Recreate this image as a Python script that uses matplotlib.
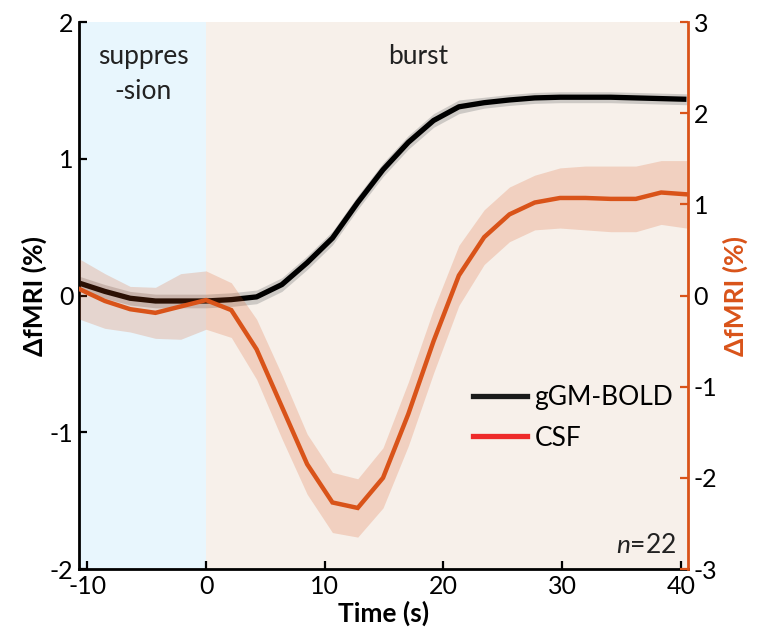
import numpy as np
import matplotlib
matplotlib.use("Agg")
import matplotlib.pyplot as plt
from matplotlib.lines import Line2D

plt.rcParams['font.family'] = ['Lato', 'DejaVu Sans']
plt.rcParams['axes.unicode_minus'] = False
plt.rcParams['mathtext.fontset'] = 'custom'
plt.rcParams['mathtext.it'] = 'Lato:italic'
plt.rcParams['mathtext.rm'] = 'Lato'

# Sample times (s), one frame every ~2.13 s around burst onset
time = [-10.65, -8.52, -6.39, -4.26, -2.13, 0.0, 2.13, 4.26, 6.39, 8.52,
        10.65, 12.78, 14.91, 17.04, 19.17, 21.3, 23.43, 25.56, 27.69, 29.82,
        31.95, 34.08, 36.21, 38.34, 40.47]

# Grey-matter BOLD, mean and SEM (%)
bold_mean = [0.09, 0.03, -0.02, -0.04, -0.04, -0.04, -0.03, -0.01, 0.08, 0.24,
             0.42, 0.68, 0.92, 1.12, 1.28, 1.38, 1.41, 1.43, 1.445, 1.45,
             1.45, 1.45, 1.445, 1.44, 1.435]
bold_sem = [0.05, 0.05, 0.05, 0.05, 0.05, 0.05, 0.05, 0.05, 0.05, 0.05,
            0.05, 0.05, 0.05, 0.05, 0.05, 0.05, 0.04, 0.04, 0.04, 0.04,
            0.04, 0.04, 0.04, 0.04, 0.04]

# CSF inflow signal, mean and SEM (%)
csf_mean = [0.07, -0.06, -0.15, -0.19, -0.12, -0.05, -0.16, -0.59, -1.22, -1.85,
            -2.27, -2.33, -2.0, -1.3, -0.5, 0.22, 0.64, 0.89, 1.02, 1.07,
            1.07, 1.06, 1.06, 1.13, 1.11]
csf_sem = [0.33, 0.3, 0.25, 0.28, 0.36, 0.32, 0.3, 0.33, 0.35, 0.33,
           0.33, 0.32, 0.33, 0.35, 0.35, 0.33, 0.3, 0.3, 0.3, 0.33,
           0.35, 0.36, 0.36, 0.35, 0.37]

n_subjects = 22
orange = '#D95319'
fs = 19

t = np.array(time)
bm, bs = np.array(bold_mean), np.array(bold_sem)
cm_, cs = np.array(csf_mean), np.array(csf_sem)

fig = plt.figure(figsize=(7.64, 6.4), dpi=100)
ax = fig.add_axes([0.1034, 0.1109, 0.7971, 0.8547])
xlim = (-10.7, 40.6)

# state backgrounds
ax.axvspan(xlim[0], 0, color='#E8F6FD', lw=0, zorder=0)
ax.axvspan(0, xlim[1], color='#F7F0EA', lw=0, zorder=0)

ax.fill_between(t, bm - bs, bm + bs, color='#9a9a9a', alpha=0.45, lw=0, zorder=2)
ax.plot(t, bm, color='black', lw=3.8, solid_joinstyle='round',
        solid_capstyle='butt', zorder=3)

ax.set_xlim(*xlim)
ax.set_ylim(-2, 2)
ax.set_yticks([-2, -1, 0, 1, 2])
ax.set_xticks([-10, 0, 10, 20, 30, 40])
ax.tick_params(direction='in', length=6, width=1.6, labelsize=18, pad=4)
ax.spines['top'].set_visible(False)
ax.spines['right'].set_visible(False)
for s in ('left', 'bottom'):
    ax.spines[s].set_linewidth(2)
ax.set_xlabel('Time (s)', fontsize=fs, fontweight='bold', labelpad=2)
ax.set_ylabel('\u0394fMRI (%)', fontsize=fs, fontweight='bold', labelpad=2)

ax2 = ax.twinx()
ax2.fill_between(t, cm_ - cs, cm_ + cs, color=orange, alpha=0.2, lw=0, zorder=2)
ax2.plot(t, cm_, color=orange, lw=3.2, solid_joinstyle='miter', zorder=3)
ax2.set_ylim(-3, 3)
ax2.set_yticks([-3, -2, -1, 0, 1, 2, 3])
ax2.tick_params(direction='in', length=6, width=1.6, labelsize=18, pad=4,
                color=orange)
for s in ('top', 'left', 'bottom'):
    ax2.spines[s].set_visible(False)
ax2.spines['right'].set_color(orange)
ax2.spines['right'].set_linewidth(2)
ax2.set_ylabel('\u0394fMRI (%)', fontsize=fs, fontweight='bold', color=orange,
               rotation=90, labelpad=4)

ax.text(-5.3, 1.84, 'suppres\n-sion', ha='center', va='top', fontsize=fs,
        linespacing=1.5, color='#222222')
ax.text(17.9, 1.84, 'burst', ha='center', va='top', fontsize=fs, color='#222222')
ax.text(39.6, -1.83, '$n$=%d' % n_subjects, ha='right', va='center',
        fontsize=fs, color='#222222')

handles = [Line2D([], [], color='#1a1a1a', lw=3.8),
           Line2D([], [], color='#EE2A2A', lw=3.8)]
ax2.legend(handles, ['gGM-BOLD', 'CSF'], loc='upper left',
           bbox_to_anchor=(0.629, 0.356), frameon=False, fontsize=fs,
           handlelength=2.05, handletextpad=0.3, labelspacing=0.6,
           borderaxespad=0)

fig.savefig('out.png', dpi=100)
